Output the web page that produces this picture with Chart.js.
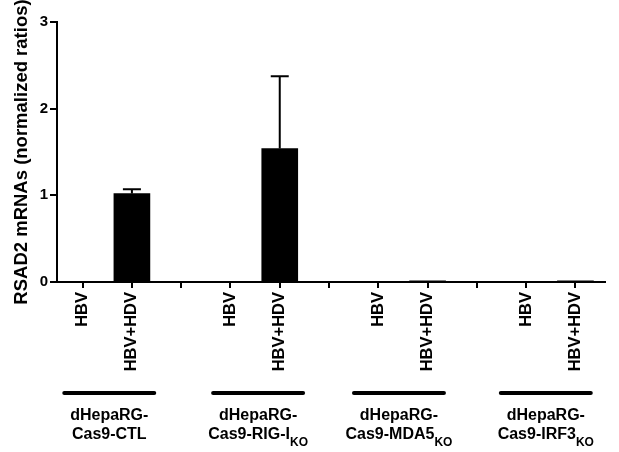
<!DOCTYPE html>
<html>
<head>
<meta charset="utf-8">
<script src="https://cdn.jsdelivr.net/npm/chart.js@4.4.1/dist/chart.umd.min.js"></script>
<style>
  html,body{margin:0;padding:0;background:#fff;}
  #wrap{width:619px;height:452px;position:relative;}
</style>
</head>
<body>
<div id="wrap"><canvas id="c"></canvas></div>
<script>
// data
const conditions = ['HBV', 'HBV+HDV'];
const groupTop = ['dHepaRG-', 'dHepaRG-', 'dHepaRG-', 'dHepaRG-'];
const groupMain = ['Cas9-CTL', 'Cas9-RIG-I', 'Cas9-MDA5', 'Cas9-IRF3'];
const groupSub = ['', 'KO', 'KO', 'KO'];
const means = [0, 1.02, 0, 1.54, 0, 0.014, 0, 0.014];
const sem = [0, 0.05, 0, 0.835, 0, 0, 0, 0];
const yTicks = [0, 1, 2, 3];
const yTitle = 'RSAD2 mRNAs (normalized ratios)';

const FONT = 'Liberation Sans, Arial, Helvetica, sans-serif';
// small nudges of the group captions, as in the original figure
const groupShift = [2, 3, -4, -5];

// each group takes 3 slots on the x axis: HBV, HBV+HDV, separator
const slotOf = i => Math.floor(i / 2) * 3 + (i % 2);
const points = means.map((m, i) => ({x: slotOf(i), y: m}));

const extras = {
  id: 'extras',
  afterDatasetsDraw(chart){
    const {ctx, scales:{y}} = chart;
    const meta = chart.getDatasetMeta(0);
    ctx.save();
    ctx.strokeStyle = '#000';
    ctx.lineWidth = 2;
    meta.data.forEach((bar, i) => {
      if(!sem[i]) return;
      const y0 = y.getPixelForValue(means[i]);
      const y1 = y.getPixelForValue(means[i] + sem[i]);
      ctx.beginPath();
      ctx.moveTo(bar.x, y0); ctx.lineTo(bar.x, y1);
      ctx.moveTo(bar.x - 9, y1); ctx.lineTo(bar.x + 9, y1);
      ctx.stroke();
    });
    ctx.restore();
  },
  afterDraw(chart){
    const {ctx, scales:{x, y}} = chart;
    ctx.save();
    ctx.fillStyle = '#000';
    // y title
    ctx.translate(22, (y.top + y.bottom) / 2);
    ctx.rotate(-Math.PI / 2);
    ctx.font = `bold 18.5px ${FONT}`;
    ctx.textAlign = 'center';
    ctx.textBaseline = 'middle';
    ctx.fillText(yTitle, 0, 0);
    ctx.restore();

    // group brackets and names
    ctx.save();
    ctx.fillStyle = '#000';
    ctx.strokeStyle = '#000';
    ctx.lineWidth = 4;
    ctx.lineCap = 'round';
    groupMain.forEach((name, g) => {
      const cx = (x.getPixelForValue(g * 3) + x.getPixelForValue(g * 3 + 1)) / 2 + groupShift[g];
      ctx.beginPath();
      ctx.moveTo(cx - 45, 393); ctx.lineTo(cx + 45, 393);
      ctx.stroke();
      ctx.textBaseline = 'alphabetic';
      ctx.textAlign = 'center';
      ctx.font = `bold 16px ${FONT}`;
      ctx.fillText(groupTop[g], cx, 420);
      const w1 = ctx.measureText(name).width;
      ctx.font = `bold 12px ${FONT}`;
      const w2 = groupSub[g] ? ctx.measureText(groupSub[g]).width : 0;
      const left = cx - (w1 + w2) / 2;
      ctx.textAlign = 'left';
      ctx.font = `bold 16px ${FONT}`;
      ctx.fillText(name, left, 439);
      if(groupSub[g]){
        ctx.font = `bold 12px ${FONT}`;
        ctx.fillText(groupSub[g], left + w1, 446);
      }
    });
    ctx.restore();
  }
};

new Chart(document.getElementById('c'), {
  type: 'bar',
  data: {
    datasets: [{
      data: points,
      backgroundColor: '#000',
      borderWidth: 0,
      barThickness: 36
    }]
  },
  options: {
    responsive: true,
    maintainAspectRatio: false,
    animation: false,
    layout: {padding: {top: 22, right: 14, left: 0, bottom: 0}},
    plugins: {legend: {display: false}, tooltip: {enabled: false}},
    scales: {
      x: {
        type: 'linear',
        offset: false,
        min: -0.52,
        max: 10.6,
        afterBuildTicks: s => { s.ticks = [0,1,2,3,4,5,6,7,8,9,10].map(v => ({value: v})); },
        afterFit: s => { s.height = 170; },
        border: {display: true, color: '#000', width: 2},
        grid: {drawOnChartArea: false, offset: false, color: '#000', tickLength: 6, lineWidth: 2},
        ticks: {
          autoSkip: false,
          minRotation: 90,
          maxRotation: 90,
          padding: 4,
          color: '#000',
          font: {family: FONT, size: 16.5, weight: 'bold'},
          callback: v => (v % 3 === 2 ? '' : conditions[v % 3])
        }
      },
      y: {
        min: 0,
        max: 3,
        afterBuildTicks: s => { s.ticks = yTicks.map(v => ({value: v})); },
        afterFit: s => { s.width = 57; },
        border: {display: true, color: '#000', width: 2},
        grid: {drawOnChartArea: false, color: '#000', tickLength: 7, lineWidth: 2},
        ticks: {
          padding: 2,
          color: '#000',
          font: {family: FONT, size: 15, weight: 'bold'}
        }
      }
    }
  },
  plugins: [extras]
});
</script>
</body>
</html>
